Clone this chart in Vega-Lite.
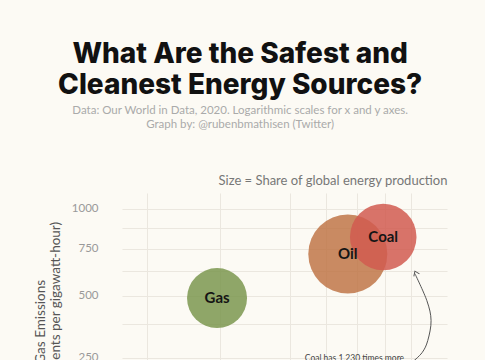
{
  "$schema": "https://vega.github.io/schema/vega-lite/v6.json",
  "autosize": {"type": "none"},
  "width": 325,
  "height": 332,
  "padding": {"left": 122, "top": 193, "right": 38, "bottom": 10},
  "background": "#fcfaf4",
  "config": {"view": {"stroke": null}, "font": "Lato"},
  "title": {
    "text": ["What Are the Safest and", "Cleanest Energy Sources?"],
    "subtitle": ["Data: Our World in Data, 2020. Logarithmic scales for x and y axes.", "Graph by: @rubenbmathisen (Twitter)"],
    "anchor": "middle",
    "frame": "bounds",
    "font": "Inter",
    "fontSize": 28,
    "fontWeight": 800,
    "color": "#111111",
    "lineHeight": 31,
    "subtitleFont": "Lato",
    "subtitleFontSize": 11.5,
    "subtitleColor": "#aaaaaa",
    "subtitleLineHeight": 14,
    "subtitlePadding": 5,
    "offset": 44
  },
  "datasets": {
    "sources": [
      {"source": "Gas", "deaths": 2.8, "emissions": 490, "share": 24.2},
      {"source": "Oil", "deaths": 18.4, "emissions": 720, "share": 33.1},
      {"source": "Coal", "deaths": 24.6, "emissions": 820, "share": 27.0}
    ],
    "arrow": [
      {"step": 1, "deaths": 30.2, "emissions": 234},
      {"step": 2, "deaths": 32.3, "emissions": 267},
      {"step": 3, "deaths": 33.5, "emissions": 311},
      {"step": 4, "deaths": 34.2, "emissions": 390},
      {"step": 5, "deaths": 33.3, "emissions": 478},
      {"step": 6, "deaths": 30.8, "emissions": 612}
    ],
    "tip": [{"deaths": 30.8, "emissions": 625}],
    "note": [{"deaths": 19.5, "emissions": 250, "text": "Coal has 1,230 times more"}]
  },
  "resolve": {"axis": {"x": "independent"}},
  "layer": [
    {
      "data": {"name": "sources"},
      "mark": {"type": "circle", "opacity": 0.85},
      "encoding": {
        "x": {
          "field": "deaths", "type": "quantitative",
          "scale": {"type": "pow", "exponent": 0.56, "domain": [-0.45, 37.7], "nice": false, "zero": false},
          "axis": {
            "orient": "bottom",
            "values": [0, 3, 10, 15, 20, 25, 30],
            "title": null, "labels": false,
            "grid": true, "gridColor": "#ebe7df", "gridWidth": 1,
            "domain": false, "ticks": false
          }
        },
        "y": {
          "field": "emissions", "type": "quantitative",
          "scale": {"type": "sqrt", "domain": [-4, 1110], "nice": false, "zero": false},
          "axis": {
            "values": [125, 250, 375, 500, 625, 750, 875, 1000],
            "labelExpr": "datum.value % 250 === 0 ? datum.label : ''",
            "format": "d",
            "title": ["Greenhouse Gas Emissions", "(tonnes of CO2-equivalents per gigawatt-hour)"],
            "grid": true, "gridColor": "#ebe7df", "gridWidth": 1,
            "domain": false, "ticks": false,
            "labelColor": "#999999", "labelFontSize": 11.5, "labelPadding": 24,
            "titleColor": "#555555", "titleFontSize": 13.5, "titleFontWeight": "normal",
            "titleLineHeight": 15, "titlePadding": 9
          }
        },
        "color": {
          "field": "source", "type": "nominal",
          "scale": {"domain": ["Gas", "Oil", "Coal"], "range": ["#7b974f", "#bf7648", "#d15a50"]},
          "legend": null
        },
        "size": {
          "field": "share", "type": "quantitative",
          "scale": {"domain": [24.2, 33.1], "range": [3600, 6241]},
          "legend": null
        }
      }
    },
    {
      "data": {"name": "sources"},
      "mark": {"type": "text", "fontWeight": "bold", "fontSize": 15, "color": "#151515", "font": "Lato"},
      "encoding": {
        "x": {
          "field": "deaths", "type": "quantitative",
          "axis": {
            "orient": "top", "labels": false, "ticks": false, "domain": false, "grid": false,
            "title": "Size = Share of global energy production",
            "titleAnchor": "end", "titleColor": "#777777", "titleFontSize": 13,
            "titleFontWeight": "normal", "titlePadding": 6
          }
        },
        "y": {"field": "emissions", "type": "quantitative"},
        "text": {"field": "source"}
      }
    },
    {
      "data": {"name": "arrow"},
      "mark": {"type": "line", "interpolate": "cardinal", "color": "#555555", "strokeWidth": 1},
      "encoding": {
        "x": {"field": "deaths", "type": "quantitative", "axis": null},
        "y": {"field": "emissions", "type": "quantitative"},
        "order": {"field": "step"}
      }
    },
    {
      "data": {"name": "tip"},
      "mark": {"type": "point", "shape": "M-0.5,0.7L0,0L0.5,0.7", "filled": false, "stroke": "#555555", "strokeWidth": 1, "size": 150, "angle": -24, "opacity": 1},
      "encoding": {
        "x": {"field": "deaths", "type": "quantitative", "axis": null},
        "y": {"field": "emissions", "type": "quantitative"}
      }
    },
    {
      "data": {"name": "note"},
      "mark": {"type": "text", "fontSize": 8.5, "color": "#444444", "align": "center", "baseline": "middle"},
      "encoding": {
        "x": {"field": "deaths", "type": "quantitative", "axis": null},
        "y": {"field": "emissions", "type": "quantitative"},
        "text": {"field": "text"}
      }
    }
  ]
}
